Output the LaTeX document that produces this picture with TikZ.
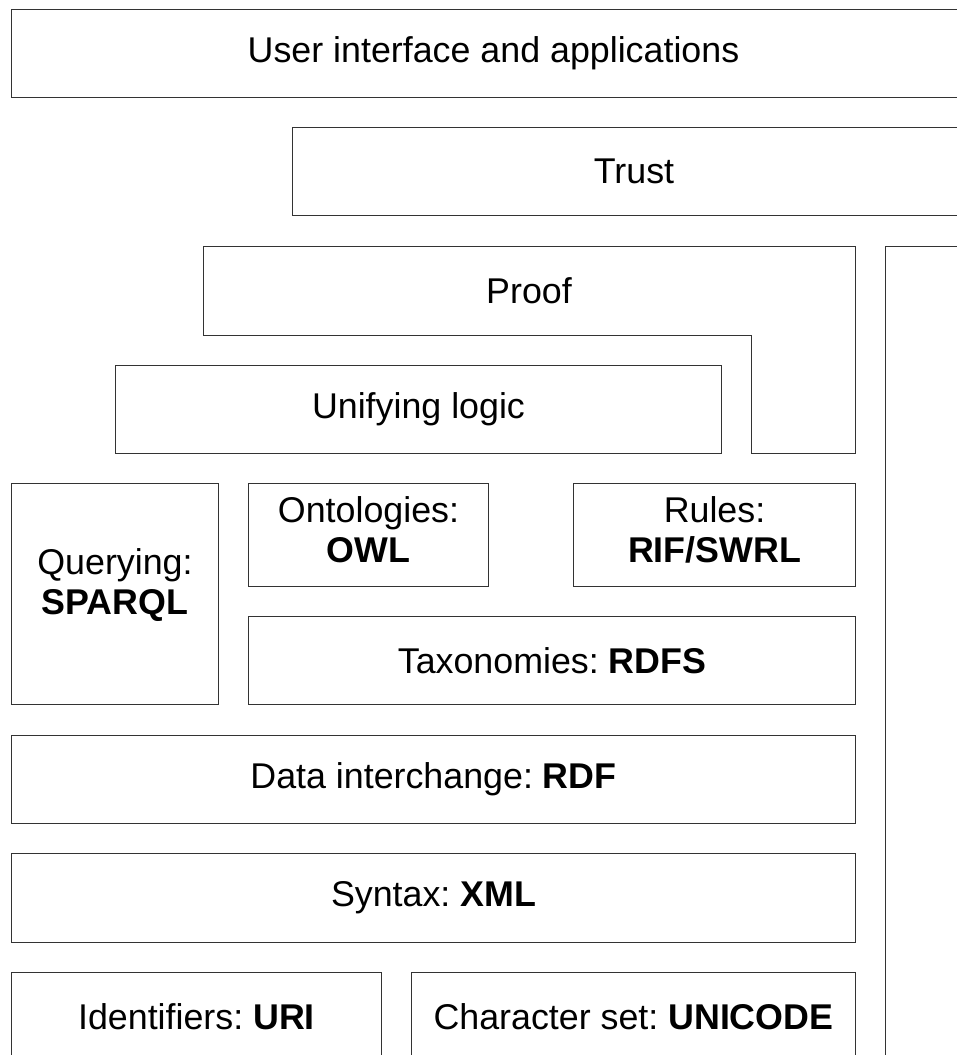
\documentclass[tikz,border=0pt]{standalone}
\usepackage{fontspec}
\setmainfont{Liberation Sans}
\usetikzlibrary{positioning}
\frenchspacing

\begin{document}
\begin{tikzpicture}[x=1pt, y=-1pt,
layer/.style={rectangle, draw=black!80, line width=1pt, inner sep=0pt, anchor=north west, align=center, font=\fontsize{35.8}{40}\selectfont},
label/.style={inner sep=0pt, align=center, font=\fontsize{35.8}{40}\selectfont}
]
\useasboundingbox (0,0) rectangle (957,1055);
\clip (0,0) rectangle (957,1055);

\node[layer, minimum width=964pt, minimum height=88pt](ui) at (11,9) {User interface and applications};
\node[layer, minimum width=683pt, minimum height=88pt](trust) at (292,127) {Trust};

% proof wraps around unifying logic
\draw[draw=black!80, line width=1pt] (203,246) -- (855,246) -- (855,453) -- (751,453) -- (751,335) -- (203,335) -- cycle;
\node[label](proof) at (529,290.5) {Proof};
\node[layer, minimum width=606pt, minimum height=88pt](logic) at (115,365) {Unifying logic};

\node[layer, minimum width=207pt, minimum height=221pt, text depth=24pt](query) at (11,483) {Querying:\\\textbf{SPARQL}};
\node[layer, minimum width=240pt, minimum height=103pt, text depth=10pt](owl) at (248,483) {Ontologies:\\\textbf{OWL}};
\node[layer, minimum width=282pt, minimum height=103pt, text depth=10pt](rules) at (573,483) {Rules:\\\textbf{RIF/SWRL}};
\node[layer, minimum width=607pt, minimum height=88pt](rdfs) at (248,616) {Taxonomies: \textbf{RDFS}};

\node[layer, minimum width=844pt, minimum height=88pt](rdf) at (11,735) {Data interchange: \textbf{RDF}};
\node[layer, minimum width=844pt, minimum height=89pt](xml) at (11,853) {Syntax: \textbf{XML}};
\node[layer, minimum width=370pt, minimum height=88pt](uri) at (11,972) {Identifiers: \textbf{URI}};
\node[layer, minimum width=444pt, minimum height=88pt](unicode) at (411,972) {Character set: \textbf{UNICODE}};

% crypto column, cut off at the page edge
\node[layer, minimum width=105pt, minimum height=830pt](crypto) at (885,246) {};
\end{tikzpicture}
\end{document}
